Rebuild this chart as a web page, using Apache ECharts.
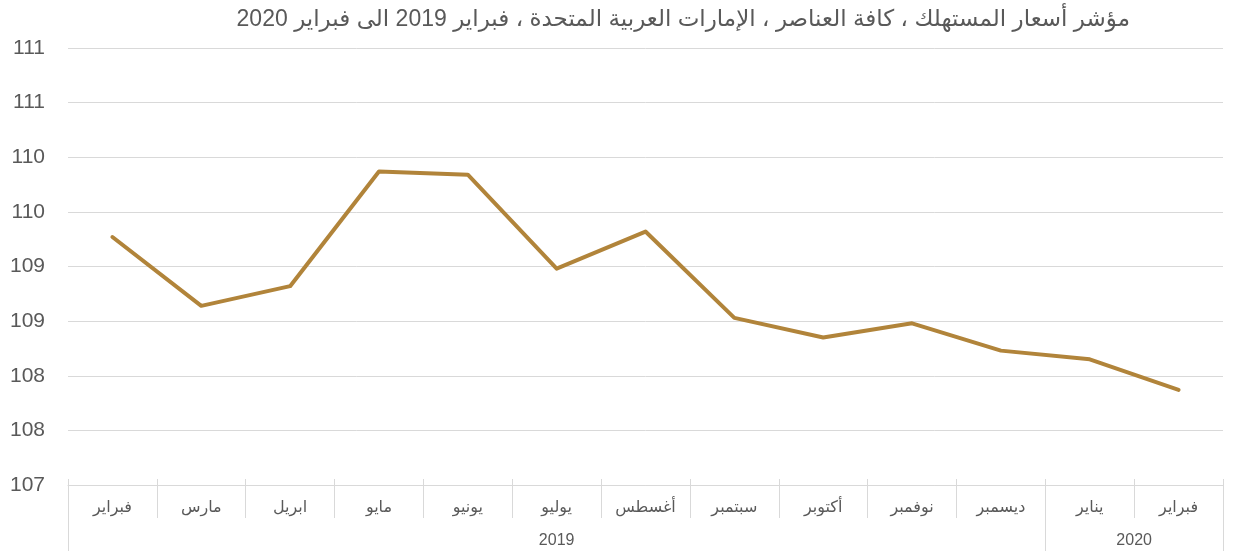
<!DOCTYPE html>
<html lang="ar">
<head>
    <meta charset="UTF-8">
    <title>مؤشر أسعار المستهلك</title>
    <script src="https://cdn.jsdelivr.net/npm/echarts@6/dist/echarts.min.js"></script>
    <style>
        html, body { margin: 0; padding: 0; background: #fff; }
        #main { width: 1233px; height: 555px; }
    </style>
</head>
<body>
<div id="main"></div>
<script type="text/javascript">
    // البيانات
    var months = ['فبراير', 'مارس', 'ابريل', 'مايو', 'يونيو', 'يوليو', 'أغسطس',
        'سبتمبر', 'أكتوبر', 'نوفمبر', 'ديسمبر', 'يناير', 'فبراير'];
    var cpiValues = [109.27, 108.64, 108.82, 109.87, 109.84, 108.98, 109.32,
        108.53, 108.35, 108.48, 108.23, 108.15, 107.87];
    var years = ['2019', '2020'];
    var monthsPerYear = [11, 2];

    // حدود السنوات ومراكزها على محور القيم (0 .. عدد الأشهر)
    var yearBounds = [0];
    var yearCenters = [];
    monthsPerYear.forEach(function (n) {
        var start = yearBounds[yearBounds.length - 1];
        yearBounds.push(start + n);
        yearCenters.push(start + n / 2);
    });

    var grey = '#595959';
    var lineGrey = '#d9d9d9';

    var myChart = echarts.init(document.getElementById('main'));
    var option = {
        backgroundColor: '#fff',
        animation: false,
        title: {
            text: 'مؤشر أسعار المستهلك ، كافة العناصر ، الإمارات العربية المتحدة ، فبراير 2019 الى فبراير 2020',
            right: 98,
            top: 3,
            textStyle: {
                fontFamily: 'Liberation Sans, DejaVu Sans, sans-serif',
                fontSize: 23,
                fontWeight: 'normal',
                color: grey
            }
        },
        grid: { left: 68, right: 10, top: 48, bottom: 70 },
        xAxis: [
            {
                type: 'category',
                data: months,
                boundaryGap: true,
                axisLine: { lineStyle: { color: lineGrey, width: 1 } },
                axisTick: { show: true, interval: 0, length: 33, lineStyle: { color: lineGrey } },
                axisLabel: {
                    interval: 0,
                    margin: 15,
                    fontSize: 16,
                    color: grey,
                    fontFamily: 'DejaVu Sans, sans-serif'
                }
            },
            {
                // علامات صغيرة فوق المحور
                type: 'category',
                data: months,
                boundaryGap: true,
                position: 'bottom',
                axisLine: { show: false },
                axisTick: { show: true, interval: 0, inside: true, length: 6, lineStyle: { color: lineGrey } },
                axisLabel: { show: false }
            },
            {
                // محور السنوات
                type: 'value',
                position: 'bottom',
                min: 0,
                max: months.length,
                axisLine: { show: false },
                splitLine: { show: false },
                axisTick: {
                    show: true,
                    customValues: yearBounds,
                    length: 66,
                    lineStyle: { color: lineGrey }
                },
                axisLabel: {
                    customValues: yearCenters,
                    margin: 48,
                    fontSize: 16,
                    color: grey,
                    fontFamily: 'Liberation Sans, sans-serif',
                    formatter: function (v) {
                        var idx = yearCenters.indexOf(v);
                        return idx >= 0 ? years[idx] : '';
                    }
                }
            }
        ],
        yAxis: {
            type: 'value',
            min: 107,
            max: 111,
            interval: 0.5,
            axisLine: { show: false },
            axisTick: { show: false },
            splitLine: { lineStyle: { color: lineGrey, width: 1 } },
            axisLabel: {
                margin: 23,
                fontSize: 21,
                color: grey,
                fontFamily: 'Liberation Sans, sans-serif',
                formatter: function (v) { return Math.round(v); }
            }
        },
        series: [
            {
                name: 'CPI',
                type: 'line',
                data: cpiValues,
                xAxisIndex: 0,
                symbol: 'none',
                lineStyle: { color: '#b1843a', width: 4, cap: 'round', join: 'round' },
                itemStyle: { color: '#b1843a' }
            }
        ]
    };
    myChart.setOption(option);
</script>
</body>
</html>
